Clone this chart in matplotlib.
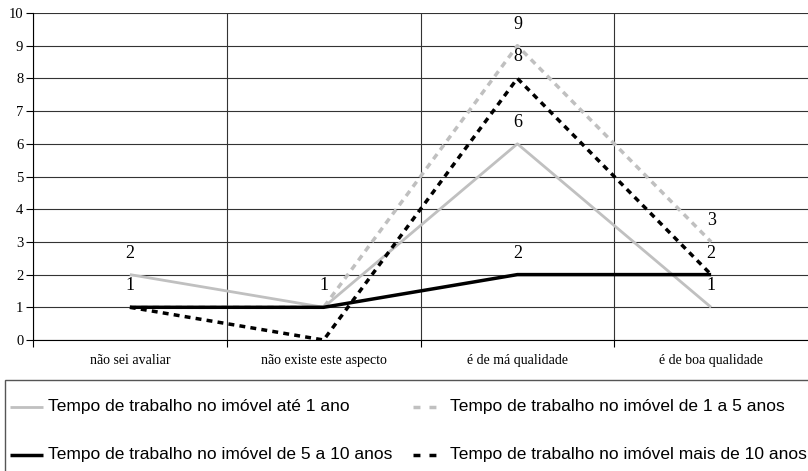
import matplotlib.pyplot as plt
from matplotlib.lines import Line2D
from matplotlib.patches import Rectangle

categorias = ['não sei avaliar', 'não existe este aspecto', 'é de má qualidade', 'é de boa qualidade']
ate_1_ano = [2, 1, 6, 1]
de_1_a_5 = [1, 1, 9, 3]
de_5_a_10 = [1, 1, 2, 2]
mais_de_10 = [1, 0, 8, 2]
nomes = ['Tempo de trabalho no imóvel até 1 ano',
         'Tempo de trabalho no imóvel de 1 a 5 anos',
         'Tempo de trabalho no imóvel de 5 a 10 anos',
         'Tempo de trabalho no imóvel mais de 10 anos']

# rótulos mostrados no gráfico (x, valor)
rotulos = [(0, 2), (0, 1), (1, 1), (2, 9), (2, 8), (2, 6), (2, 2), (3, 3), (3, 2), (3, 1)]

W, H = 808, 471
fig = plt.figure(figsize=(W / 100, H / 100), dpi=100)
ax = fig.add_axes([33 / W, 1 - 340 / H, 1 - 33 / W, 327 / H])

x = range(len(categorias))
cinza = '#c0c0c0'
estilos = [dict(color=cinza, lw=2.0),
           dict(color=cinza, lw=2.5, dashes=(1.8, 1.5)),
           dict(color='black', lw=2.5),
           dict(color='black', lw=2.5, dashes=(1.7, 1.5))]
for serie, st in zip([ate_1_ano, de_1_a_5, de_5_a_10, mais_de_10], estilos):
    ax.plot(x, serie, solid_capstyle='butt', **st)

for xi, v in rotulos:
    ax.text(xi, v + 0.4, str(v), ha='center', va='bottom', fontsize=13,
            family='Liberation Serif')

ax.set_xlim(-0.5, 3.5)
ax.set_ylim(0, 10)
ax.set_yticks(range(11))
ax.set_xticks([-0.5, 0.5, 1.5, 2.5])
ax.set_xticklabels([])
ax.set_xticks(list(x), minor=True)
ax.set_xticklabels(categorias, minor=True, fontsize=10, family='Liberation Serif')
ax.tick_params(axis='x', which='minor', length=0, pad=10)
ax.tick_params(axis='x', which='major', length=5, width=0.8)
ax.tick_params(axis='y', length=5, width=0.8, labelsize=10.5, pad=2)
for t in ax.get_yticklabels():
    t.set_family('Liberation Serif')

ax.grid(True, which='major', color='#333333', lw=0.8)
ax.set_axisbelow(True)
for s in ['top', 'right']:
    ax.spines[s].set_visible(False)
ax.spines['left'].set_linewidth(0.8)
ax.spines['bottom'].set_linewidth(0.8)

# legenda desenhada à mão (caixa passa das bordas como no original)
fig.add_artist(Rectangle((5 / W, -0.05), 1.1, 1 - 380 / H + 0.05,
                         transform=fig.transFigure, fill=False,
                         edgecolor='#555555', lw=1.0))
# (x inicial da linha, x final da linha, x do texto, y)
posicoes = [(10, 43, 48, 407), (413, 436, 450, 407),
            (10, 43, 48, 455), (413, 436, 450, 455)]
for (x0, x1, tx, py), nome, st in zip(posicoes, nomes, estilos):
    st = dict(st)
    if 'dashes' in st:
        st['dashes'] = (2, 2.6)
    fig.add_artist(Line2D([x0 / W, x1 / W], [1 - py / H, 1 - py / H],
                          transform=fig.transFigure, solid_capstyle='butt', **st))
    fig.text(tx / W, 1 - py / H, nome, va='center', ha='left', fontsize=12.5,
             family='Liberation Sans')

fig.savefig('out.png', dpi=100)
